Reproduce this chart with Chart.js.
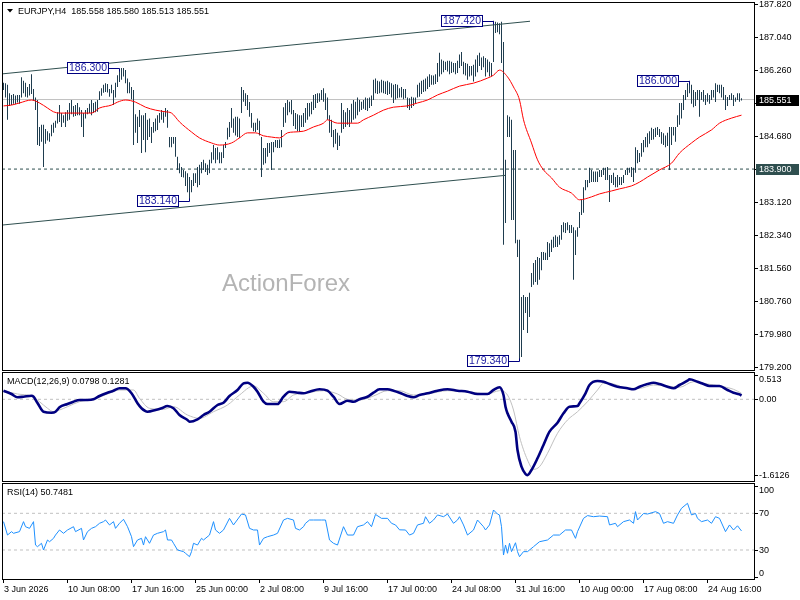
<!DOCTYPE html>
<html>
<head>
<meta charset="utf-8">
<script src="https://cdn.jsdelivr.net/npm/chart.js@4.4.1/dist/chart.umd.min.js"></script>
<style>
html,body{margin:0;padding:0;background:#fff;width:800px;height:600px;overflow:hidden}
.p{position:absolute;left:0}
canvas{display:block}
</style>
</head>
<body>
<div class="p" style="top:0px"><canvas id="cMain" width="800" height="372"></canvas></div>
<div class="p" style="top:372px"><canvas id="cMacd" width="800" height="110"></canvas></div>
<div class="p" style="top:483px"><canvas id="cRsi" width="800" height="117"></canvas></div>
<script>
// ---------------- DATA ----------------
const symbolName = 'EURJPY,H4';
const lastOHLC = ['185.558', '185.580', '185.513', '185.551'];
const watermark = 'ActionForex';

// H4 bars, index 0 = 3 Jun 2026 00:00
const highs = [
185.95,185.94,185.90,185.70,185.66,185.68,185.65,185.66,185.66,186.08,
186.00,185.95,185.85,185.92,186.15,185.80,185.60,185.54,184.90,184.95,
184.95,184.85,184.80,184.75,184.95,185.00,185.05,185.25,185.42,185.23,
185.18,185.25,185.30,185.47,185.54,185.40,185.42,185.47,185.37,185.30,
185.23,185.30,185.35,185.45,185.54,185.47,185.50,185.54,185.75,185.82,
185.90,185.94,185.92,185.80,185.90,185.78,185.95,186.13,186.28,186.30,
186.30,186.25,186.05,185.96,185.85,185.78,185.20,185.14,185.30,185.18,
185.18,185.23,185.07,185.10,184.90,185.02,185.10,185.18,185.23,185.30,
185.25,185.35,185.30,184.66,184.66,184.66,184.66,184.19,184.04,183.95,
183.88,183.85,183.80,183.71,183.64,183.80,183.80,183.95,184.00,184.07,
184.12,184.04,184.00,184.12,184.30,184.47,184.40,184.42,184.30,184.30,
184.47,184.54,184.88,185.02,185.35,185.10,185.14,185.14,185.10,185.85,
185.78,185.70,185.66,185.49,185.23,185.00,185.00,185.10,185.05,184.66,
184.40,184.40,184.52,184.52,184.54,184.54,184.59,184.59,184.60,184.83,
185.37,185.47,185.54,185.50,185.54,185.30,185.23,185.20,185.18,185.18,
185.23,185.35,185.47,185.47,185.50,185.66,185.68,185.70,185.70,185.78,
185.82,185.70,185.60,185.18,185.07,184.83,184.85,184.76,184.70,185.47,
185.30,185.25,185.35,185.30,185.45,185.54,185.50,185.60,185.54,185.50,
185.54,185.60,185.58,185.60,185.65,186.02,186.05,186.00,185.98,186.02,
186.00,185.98,186.00,185.96,185.94,185.90,185.92,185.90,185.82,185.85,
185.80,185.80,185.60,185.58,185.62,185.60,185.60,185.90,185.95,186.00,
186.02,186.05,186.10,186.15,186.13,186.12,186.15,186.42,186.66,186.50,
186.47,186.45,186.47,186.47,186.45,186.42,186.42,186.47,186.62,186.68,
186.45,186.42,186.40,186.35,186.35,186.38,186.50,186.60,186.66,186.55,
186.58,186.54,186.50,186.45,186.42,187.42,187.40,187.38,187.36,187.40,
186.92,184.12,185.18,185.14,185.07,184.35,184.35,182.22,182.22,180.86,
180.91,180.86,180.86,180.96,181.43,181.67,181.74,181.81,181.79,181.93,
181.93,181.91,182.17,182.14,182.22,182.29,182.33,182.29,182.33,182.57,
182.64,182.62,182.64,182.57,182.57,182.52,182.45,182.52,182.88,183.17,
183.47,183.64,183.64,183.93,183.88,183.84,183.84,183.84,183.88,183.88,
183.93,183.93,183.95,183.76,183.76,183.81,183.71,183.76,183.71,183.71,
183.76,183.88,183.93,183.93,183.95,183.93,184.42,184.35,184.28,184.52,
184.59,184.66,184.75,184.80,184.88,184.85,184.88,184.90,184.85,184.78,
184.75,184.70,184.76,184.90,184.90,184.90,184.90,185.18,185.47,185.47,
185.66,185.78,185.94,186.00,185.90,185.78,185.73,185.78,185.78,185.73,
185.78,185.66,185.70,185.66,185.78,185.78,185.94,185.90,185.90,185.90,
185.85,185.66,185.61,185.66,185.70,185.66,185.60,185.70,185.70,185.58];

const lows = [
185.78,185.60,185.07,185.40,185.42,185.45,185.44,185.48,185.45,185.60,
185.70,185.62,185.60,185.65,185.68,185.52,185.30,184.47,184.45,184.55,
183.95,184.50,184.58,184.55,184.68,184.76,184.88,184.98,185.02,184.90,
185.00,184.90,185.05,185.07,185.20,185.14,185.16,185.18,185.18,184.90,
184.66,185.10,185.20,185.23,185.18,185.23,185.25,185.26,185.54,185.64,
185.71,185.73,185.72,185.62,185.70,185.42,185.60,185.85,185.97,186.02,
186.10,185.94,185.70,185.70,185.56,184.47,184.76,184.52,184.90,184.28,
184.59,184.30,184.59,184.66,184.52,184.76,184.80,184.83,185.00,185.07,
185.00,185.14,184.88,184.42,184.42,184.50,184.19,183.88,183.80,183.71,
183.70,183.50,183.35,183.14,183.35,183.50,183.57,183.47,183.52,183.80,
183.88,183.83,183.76,183.80,184.04,184.12,184.04,184.12,184.04,184.04,
184.16,184.40,184.60,184.66,184.88,184.76,184.70,184.66,184.64,185.23,
185.50,185.40,185.30,185.14,184.88,184.80,184.78,184.83,184.70,183.71,
184.00,184.04,184.19,184.28,183.88,184.30,184.42,184.40,184.40,184.42,
184.90,185.00,185.18,185.25,185.20,184.92,184.85,184.80,184.78,184.90,
184.90,185.00,185.07,185.15,185.20,185.30,185.35,185.47,185.50,185.54,
185.50,185.30,185.07,184.76,184.66,184.42,184.50,184.35,184.45,184.76,
184.85,184.90,184.95,184.90,185.00,185.07,185.10,185.18,185.26,185.30,
185.33,185.30,185.28,185.35,185.40,185.54,185.70,185.68,185.70,185.72,
185.70,185.68,185.66,185.68,185.60,185.47,185.55,185.58,185.60,185.60,
185.56,185.58,185.35,185.30,185.35,185.40,185.45,185.60,185.62,185.68,
185.73,185.75,185.80,185.85,185.90,185.90,185.92,185.97,186.10,186.15,
186.20,186.25,186.22,186.15,186.18,186.20,186.15,186.18,186.30,186.35,
186.15,186.12,186.02,186.10,186.12,185.98,186.10,186.20,186.35,186.25,
186.32,186.10,186.20,186.10,186.10,186.44,187.13,187.15,187.10,186.42,
182.10,182.62,184.66,184.66,182.69,182.69,182.14,181.81,179.34,179.44,
180.08,180.48,180.01,180.39,181.10,181.15,181.22,181.15,181.27,181.50,
181.74,181.74,181.74,181.81,181.93,182.03,182.05,182.05,182.10,182.22,
182.40,182.38,182.45,182.38,182.38,181.27,181.86,182.29,182.50,182.81,
182.86,183.40,183.47,183.57,183.59,183.59,183.59,183.59,183.71,183.71,
183.76,183.64,183.64,183.12,183.57,183.52,183.47,183.47,183.52,183.52,
183.57,183.76,183.76,183.81,183.71,183.59,183.81,184.04,184.07,184.19,
184.30,184.42,184.42,184.50,184.59,184.60,184.66,184.71,184.66,184.50,
184.47,184.42,184.45,183.88,184.47,184.70,184.55,184.90,184.95,185.10,
185.30,185.54,185.61,185.70,185.45,185.37,185.40,185.54,185.14,185.54,
185.50,185.42,185.50,185.45,185.54,185.60,185.49,185.73,185.70,185.60,
185.54,185.30,185.40,185.54,185.54,185.40,185.50,185.54,185.50,185.53];

// moving average (red)
const maIdx = [0,4,8,14,18,22,25,28,34,38, 44,48,54,57,61,66,71,76,81,84,
  88,94,98,104,108,114,118,122,126,130, 134,138,142,145,150,155,160,162,167,172,
  177,180,185,190,195,202,207,212,217,222, 228,235,242,245,248,252,255,258,260,264,
  267,270,274,278,284,288,294,298,304,308, 314,318,322,328,334,338,344,348,354,358,
  364,369];
const maVal = [185.40,185.42,185.47,185.54,185.47,185.35,185.26,185.23,185.23,185.23,
  185.23,185.35,185.42,185.49,185.54,185.49,185.37,185.30,185.26,185.23,
  185.02,184.78,184.64,184.52,184.47,184.52,184.64,184.76,184.76,184.69,
  184.66,184.64,184.76,184.78,184.80,184.90,184.99,185.07,184.99,184.99,
  184.99,185.07,185.18,185.30,185.37,185.40,185.47,185.54,185.66,185.75,
  185.87,185.94,186.06,186.13,186.25,186.09,185.85,185.54,185.07,184.52,
  184.12,183.88,183.69,183.47,183.33,183.17,183.24,183.31,183.38,183.43,
  183.50,183.59,183.71,183.88,184.04,184.28,184.52,184.66,184.83,184.99,
  185.11,185.18];

// channel trend lines (bar index, price)
const upTrendIdx = [-0.75, 263.25];
const upTrendVal = [186.16, 187.41];
const loTrendIdx = [-0.75, 250.75];
const loTrendVal = [182.57, 183.75];

const lastPrice = 185.551;
const levelPrice = 183.900;
const priceTicks = [187.820,187.040,186.260,185.480,184.680,183.900,183.120,182.340,181.560,180.760,179.980,179.200];

// swing labels
const swingIdx = [58, 93, 245, 258, 343];
const swingPrice = [186.300, 183.140, 187.420, 179.340, 186.000];
const swingType = ['H', 'L', 'H', 'L', 'H'];

// MACD(12,26,9)
const macdIdx = [0,4,7,10,14,15,17,20,24,26,
  28,32,35,38,42,45,48,52,55,58,
  61,64,67,69,72,76,79,82,85,88,
  92,93,97,100,103,107,110,113,117,120,
  122,125,127,130,132,137,140,143,147,150,
  153,158,162,165,168,172,175,178,182,185,
  188,192,195,198,202,205,208,212,217,222,
  227,232,237,242,245,248,250,251,252,254,
  256,257,259,261,262,264,267,270,273,277,
  280,283,287,288,291,293,297,300,303,307,
  312,315,318,322,325,328,332,335,338,342,
  343,347,350,353,358,362,365,368,369];
const macdVal = [0.183,0.113,0.043,0.055,0.077,0.055,-0.079,-0.264,-0.285,-0.264,
  -0.170,-0.100,-0.051,-0.015,-0.015,0,0.070,0.140,0.183,0.234,
  0.234,0.128,-0.085,-0.191,-0.264,-0.228,-0.191,-0.143,-0.191,-0.334,
  -0.440,-0.477,-0.426,-0.334,-0.264,-0.121,-0.073,0.070,0.198,0.340,
  0.353,0.268,0.162,-0.051,-0.100,-0.100,0.055,0.162,0.140,0.128,
  0.162,0.213,0.183,0.055,-0.100,-0.030,-0.051,0,0.055,0.140,
  0.213,0.213,0.183,0.140,0.070,0.043,0.091,0.128,0.183,0.213,
  0.183,0.162,0.113,0.113,0.198,0.255,0.091,-0.157,-0.298,-0.477,
  -0.689,-1.079,-1.434,-1.589,-1.613,-1.504,-1.255,-0.972,-0.689,-0.498,
  -0.298,-0.157,-0.143,-0.085,0.128,0.304,0.389,0.374,0.326,0.268,
  0.234,0.213,0.268,0.326,0.353,0.326,0.268,0.234,0.304,0.396,
  0.426,0.374,0.326,0.283,0.283,0.198,0.140,0.106,0.080];
const sigIdx = [0,7,14,18,22,25,28,32,38,45,
  52,58,65,68,73,80,85,92,98,105,
  112,118,125,130,135,140,145,152,160,167,
  172,178,185,192,198,205,212,222,232,242,
  248,252,255,258,262,265,268,272,277,282,
  287,292,297,300,305,312,318,325,332,338,
  345,352,358,365,369];
const sigVal = [0.183,0.113,0.070,-0.051,-0.191,-0.264,-0.228,-0.157,-0.051,0,
  0.113,0.198,0.198,0.021,-0.191,-0.213,-0.157,-0.334,-0.404,-0.264,
  -0.121,0.091,0.283,0.128,-0.051,-0.051,0.091,0.140,0.183,0.113,
  0,-0.015,0.070,0.183,0.183,0.091,0.113,0.183,0.162,0.113,
  0.183,0.091,-0.228,-0.796,-1.291,-1.489,-1.434,-1.149,-0.723,-0.440,
  -0.264,-0.051,0.198,0.340,0.326,0.234,0.234,0.304,0.283,0.255,
  0.374,0.326,0.283,0.213,0.128];
const macdTitle = 'MACD(12,26,9) 0.0798 0.1281';
const macdTicks = [0.513, 0, -1.6126];
const macdTickText = ['0.513', '0.00', '-1.6126'];

// RSI(14)
const rsiIdx = [0,2,4,5,8,10,11,13,15,16,
  17,19,20,22,23,25,26,28,30,32,
  35,36,39,40,42,44,46,48,50,51,
  53,55,56,58,60,62,64,65,67,69,
  70,71,73,75,77,80,81,82,84,85,
  87,90,91,93,94,95,97,99,100,103,
  105,106,108,110,113,115,119,121,123,125,
  127,128,130,132,135,137,140,142,145,146,
  148,150,151,153,155,159,161,163,165,167,
  170,172,175,177,180,182,184,186,189,192,
  194,196,198,201,203,205,207,210,211,213,
  215,217,220,222,225,227,228,230,232,235,
  237,240,241,243,245,247,248,249,250,251,
  252,253,254,256,257,258,260,262,265,268,
  272,275,278,281,284,286,287,290,292,295,
  298,302,303,306,307,310,313,315,316,317,
  320,322,326,328,330,332,335,337,339,342,
  344,346,347,349,352,354,356,358,361,363,
  365,367,369];
const rsiVal = [60.9,46.3,50,48.2,50,60.9,55.4,53.6,60.9,35.4,
  33.6,37.3,30,40.9,39.0,42.7,46.3,51.8,48.2,51.8,
  55.4,50,53.6,40.9,50,53.6,55.4,59.1,60.9,62.7,
  57.3,60.9,53.6,59.1,63.5,55.4,44.5,33.6,40.9,42.7,
  35.4,44.5,37.3,46.3,48.2,50,51.8,40.9,40.9,37.3,
  30,28.2,26.4,22.7,28.2,37.3,35.4,42.7,40.9,46.3,
  60.9,51.8,48.2,51.8,64.5,57.3,69.2,68.2,53.6,51.8,
  51.8,35.4,42.7,44.5,46.3,48.2,62.7,64.5,62.7,53.6,
  51.8,55.4,59.1,62.7,62.7,62.7,62.7,40.9,37.3,35.4,
  55.4,46.3,46.3,55.4,57.3,60.9,55.4,68.8,64.5,64.5,
  59.1,57.3,52,51.8,46.3,48.2,57.3,59.1,66.3,59.1,
  62.7,68.2,66.3,69.2,59.1,62.7,66.3,57.3,46.3,51.8,
  62.7,55.4,51.8,57.3,73.6,69.2,68.2,55.4,24.5,35.4,
  26.4,37.3,28.2,37.9,28.2,22.7,28.2,28.2,33.6,39.0,
  40.9,46.3,46.3,51.8,51.8,42.7,50,64.5,67.5,66.3,
  67,66.3,57.3,59.1,55.4,60.9,62.7,59.1,71.8,62.7,
  69.8,69.2,71.8,69.8,59.1,60.9,59.1,68.2,75.5,80.9,
  68.2,69.8,64.5,60.9,62.7,59.1,66.3,64.5,50,57.3,
  51.8,56.4,50.75];
const rsiTitle = 'RSI(14) 50.7481';
const rsiTicks = [100, 70, 30, 0];
const rsiLevels = [70, 30];

// time axis
const xLabelIdx = [0,32,64,96,128,160,192,224,256,288,320,352];
const xLabels = ['3 Jun 2026','10 Jun 08:00','17 Jun 16:00','25 Jun 00:00','2 Jul 08:00','9 Jul 16:00',
  '17 Jul 00:00','24 Jul 08:00','31 Jul 16:00','10 Aug 00:00','17 Aug 08:00','24 Aug 16:00'];

// ---------------- STYLE / LAYOUT ----------------
const FF = '"Liberation Sans", Arial, sans-serif';
const AXIS_FONT = '9px ' + FF;
const LABEL_FONT = '10.5px ' + FF;
const WATER_FONT = '24px ' + FF;
const BAR_COLOR = '#1f3d4f';
const SLATE = '#2f4f4f';
const NAVY = '#000080';
const X_MIN = -0.75, X_MAX = 375.75;
const PAD = {left: 2, right: 45};

const pts = (idx, val) => idx.map((x, k) => ({x: x, y: val[k]}));
const hline = v => [{x: X_MIN, y: v}, {x: X_MAX, y: v}];

function baseOptions(yMin, yMax, pad) {
  return {
    responsive: false, animation: false, devicePixelRatio: 1, events: [],
    layout: {padding: pad},
    plugins: {legend: {display: false}, tooltip: {enabled: false}},
    scales: {
      x: {type: 'linear', min: X_MIN, max: X_MAX, display: false, offset: false},
      y: {type: 'linear', min: yMin, max: yMax, display: false}
    }
  };
}

function drawFrame(chart) {
  const {ctx, chartArea: a} = chart;
  ctx.save();
  ctx.strokeStyle = '#000'; ctx.lineWidth = 1;
  ctx.strokeRect(a.left + 0.5, a.top + 0.5, a.right - a.left - 1, a.bottom - a.top - 1);
  ctx.restore();
}

function rightAxis(chart, vals, texts, clamp) {
  const {ctx, chartArea: a} = chart; const y = chart.scales.y;
  ctx.save();
  ctx.font = AXIS_FONT; ctx.fillStyle = '#000'; ctx.strokeStyle = '#000'; ctx.lineWidth = 1;
  ctx.textAlign = 'left'; ctx.textBaseline = 'middle';
  vals.forEach((v, k) => {
    const py = y.getPixelForValue(v);
    const ty = Math.round(py) + 0.5;
    ctx.beginPath(); ctx.moveTo(a.right, ty); ctx.lineTo(a.right + 3, ty); ctx.stroke();
    let ly = py;
    if (clamp) ly = Math.min(Math.max(py, a.top + 7), a.bottom - 7);
    ctx.fillText(texts[k], a.right + 4, ly + 0.5);
  });
  ctx.restore();
}

function priceBox(chart, v, text, bg) {
  const {ctx, chartArea: a} = chart; const y = chart.scales.y;
  const py = Math.round(y.getPixelForValue(v));
  ctx.save();
  ctx.fillStyle = bg; ctx.fillRect(a.right + 1, py - 5, 43, 11);
  ctx.font = AXIS_FONT; ctx.fillStyle = '#fff'; ctx.textAlign = 'left'; ctx.textBaseline = 'middle';
  ctx.fillText(text, a.right + 4, py + 0.5);
  ctx.restore();
}

function swingLabels(chart) {
  const {ctx} = chart; const x = chart.scales.x, y = chart.scales.y;
  ctx.save();
  ctx.font = LABEL_FONT; ctx.lineWidth = 1;
  swingIdx.forEach((i, k) => {
    const ax = Math.round(x.getPixelForValue(i)), ay = Math.round(y.getPixelForValue(swingPrice[k]));
    const w = 42, h = 12, rx = ax - 11, lx = rx - w, ty = ay - 6;
    ctx.strokeStyle = NAVY;
    ctx.beginPath();
    ctx.moveTo(rx, ay + 0.5); ctx.lineTo(ax - 0.5, ay + 0.5);
    ctx.lineTo(ax - 0.5, ay + 0.5 + (swingType[k] === 'H' ? 3 : -3));
    ctx.stroke();
    ctx.fillStyle = '#fff'; ctx.fillRect(lx, ty, w, h);
    ctx.strokeRect(lx + 0.5, ty + 0.5, w - 1, h - 1);
    ctx.fillStyle = '#1a1aa0'; ctx.textAlign = 'center'; ctx.textBaseline = 'middle';
    ctx.fillText(swingPrice[k].toFixed(3), lx + w / 2, ty + h / 2 + 0.5);
  });
  ctx.restore();
}

function panelTitle(chart, text, yPos) {
  const {ctx} = chart;
  ctx.save();
  ctx.font = AXIS_FONT; ctx.fillStyle = '#000'; ctx.textAlign = 'left'; ctx.textBaseline = 'middle';
  ctx.fillText(text, 7, yPos);
  ctx.restore();
}

// ---------------- MAIN PRICE PANEL ----------------
const mainDeco = {
  id: 'mainDeco',
  beforeDatasetsDraw(chart) {
    const {ctx} = chart;
    ctx.save();
    ctx.font = WATER_FONT; ctx.fillStyle = '#b4b4b4'; ctx.textAlign = 'left'; ctx.textBaseline = 'alphabetic';
    ctx.fillText(watermark, 222, 291);
    ctx.restore();
  },
  afterDraw(chart) {
    const {ctx} = chart;
    drawFrame(chart);
    rightAxis(chart, priceTicks, priceTicks.map(v => v.toFixed(3)), false);
    priceBox(chart, levelPrice, levelPrice.toFixed(3), SLATE);
    priceBox(chart, lastPrice, lastPrice.toFixed(3), '#000');
    swingLabels(chart);
    ctx.save();
    ctx.fillStyle = '#000';
    ctx.beginPath(); ctx.moveTo(7, 9); ctx.lineTo(13, 9); ctx.lineTo(10, 12.5); ctx.closePath(); ctx.fill();
    ctx.font = AXIS_FONT; ctx.textAlign = 'left'; ctx.textBaseline = 'alphabetic';
    ctx.fillText(symbolName + '  ' + lastOHLC.join(' '), 18, 14);
    ctx.restore();
  }
};

const P_MAX = 187.8675, P_MIN = 179.1047;
new Chart(document.getElementById('cMain'), {
  type: 'bar',
  data: {
    datasets: [
      {type: 'line', data: pts(maIdx, maVal), borderColor: '#ff0000', borderWidth: 1, pointRadius: 0,
        cubicInterpolationMode: 'monotone', fill: false, order: 0},
      {type: 'line', data: pts(upTrendIdx, upTrendVal), borderColor: SLATE, borderWidth: 1, pointRadius: 0, fill: false, order: 0},
      {type: 'line', data: pts(loTrendIdx, loTrendVal), borderColor: SLATE, borderWidth: 1, pointRadius: 0, fill: false, order: 0},
      {type: 'line', data: hline(lastPrice), borderColor: '#c0c0c0', borderWidth: 1, pointRadius: 0, fill: false, order: 5},
      {type: 'line', data: hline(levelPrice), borderColor: SLATE, borderWidth: 1, borderDash: [3, 3], pointRadius: 0, fill: false, order: 5},
      {type: 'bar', data: highs.map((h, i) => ({x: i, y: [lows[i], h]})), backgroundColor: BAR_COLOR,
        barThickness: 1, inflateAmount: 0, borderWidth: 0, order: 2}
    ]
  },
  options: baseOptions(P_MIN, P_MAX, {left: PAD.left, right: PAD.right, top: 2, bottom: 1}),
  plugins: [mainDeco]
});

// ---------------- MACD PANEL ----------------
const macdDeco = {
  id: 'macdDeco',
  afterDraw(chart) {
    drawFrame(chart);
    rightAxis(chart, macdTicks, macdTickText, true);
    panelTitle(chart, macdTitle, 10);
  }
};
new Chart(document.getElementById('cMacd'), {
  type: 'line',
  data: {
    datasets: [
      {data: pts(macdIdx, macdVal), borderColor: NAVY, borderWidth: 2.6, pointRadius: 0,
        cubicInterpolationMode: 'monotone', fill: false, order: 0},
      {data: pts(sigIdx, sigVal), borderColor: '#c0c0c0', borderWidth: 1, pointRadius: 0,
        cubicInterpolationMode: 'monotone', fill: false, order: 1},
      {data: hline(0), borderColor: '#c0c0c0', borderWidth: 1, borderDash: [3, 3], pointRadius: 0, fill: false, order: 2}
    ]
  },
  options: baseOptions(-1.7596, 0.5809, {left: PAD.left, right: PAD.right, top: 0, bottom: 0}),
  plugins: [macdDeco]
});

// ---------------- RSI PANEL ----------------
const rsiDeco = {
  id: 'rsiDeco',
  afterDraw(chart) {
    const {ctx, chartArea: a} = chart; const x = chart.scales.x;
    drawFrame(chart);
    rightAxis(chart, rsiTicks, rsiTicks.map(String), true);
    panelTitle(chart, rsiTitle, 10);
    ctx.save();
    ctx.font = AXIS_FONT; ctx.fillStyle = '#000'; ctx.strokeStyle = '#000'; ctx.lineWidth = 1;
    ctx.textAlign = 'left'; ctx.textBaseline = 'alphabetic';
    xLabelIdx.forEach((i, k) => {
      const px = Math.floor(x.getPixelForValue(i)) + 0.5;
      ctx.beginPath(); ctx.moveTo(px, a.bottom); ctx.lineTo(px, a.bottom + 3); ctx.stroke();
      ctx.fillText(xLabels[k], px + 0.5, a.bottom + 12);
    });
    ctx.restore();
  }
};
new Chart(document.getElementById('cRsi'), {
  type: 'line',
  data: {
    datasets: [
      {data: pts(rsiIdx, rsiVal), borderColor: '#1e90ff', borderWidth: 1, pointRadius: 0, tension: 0, fill: false, order: 0}
    ].concat(rsiLevels.map(v => ({data: hline(v), borderColor: '#c0c0c0', borderWidth: 1, borderDash: [3, 3],
      pointRadius: 0, fill: false, order: 2})))
  },
  options: baseOptions(-2.73, 103.05, {left: PAD.left, right: PAD.right, top: 0, bottom: 20}),
  plugins: [rsiDeco]
});
</script>
</body>
</html>
